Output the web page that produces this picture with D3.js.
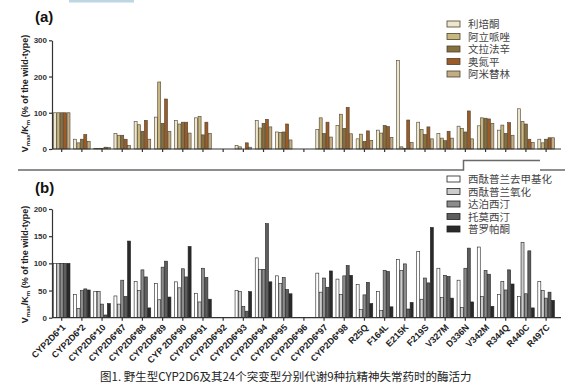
<!DOCTYPE html>
<html><head><meta charset="utf-8">
<script src="https://cdn.jsdelivr.net/npm/d3@7/dist/d3.min.js"></script>
<style>
body{margin:0;background:#fff}
svg{display:block}
text{font-family:"Liberation Sans",Arial,sans-serif}
</style>
</head><body>
<svg id="c" width="579" height="392"></svg>
<script>
// ---------- data ----------
const categories = ["CYP2D6*1","CYP2D6*2","CYP2D6*10","CYP2D6*87","CYP2D6*88","CYP2D6*89","CYP2D6*90","CYP2D6*91","CYP2D6*92","CYP2D6*93","CYP2D6*94","CYP2D6*95","CYP2D6*96","CYP2D6*97","CYP2D6*98","R25Q","F164L","E215K","F219S","V327M","D336N","V342M","R344Q","R440C","R497C"];
const tickLabels = ["CYP2D6*1","CYP2D6*2","CYP2D6*10","CYP2D6*87","CYP2D6*88","CYP2D6*89","CYP 2D6*90","CYP2D6*91","CYP2D6*92","CYP2D6*93","CYP2D6*94","CYP2D6*95","CYP2D6*96","CYP2D6*97","CYP2D6*98","R25Q","F164L","E215K","F219S","V327M","D336N","V342M","R344Q","R440C","R497C"];

const seriesA = ["利培酮","阿立哌唑","文拉法辛","奥氮平","阿米替林"];
const risperidone   = [100,27,2,43,76,88,79,86,0,10,79,47,0,54,65,28,52,244,74,43,63,64,52,111,27];
const aripiprazole  = [100,17,2,38,67,185,69,90,0,6,58,46,0,86,96,41,44,6,54,30,57,86,66,76,17];
const venlafaxine   = [100,27,2,38,49,71,74,39,0,0,71,47,0,43,57,21,65,2,40,23,47,85,43,69,27];
const olanzapine    = [100,40,5,27,79,138,74,74,0,17,82,69,0,74,115,50,62,80,61,49,105,83,73,27,31];
const amitriptyline = [100,21,4,10,27,48,44,43,0,5,61,25,0,33,42,24,32,18,28,30,28,71,38,18,31];

const seriesB = ["西酞普兰去甲基化","西酞普兰氧化","达泊西汀","托莫西汀","普罗帕酮"];
const citalopramDemethyl = [100,43,48,40,67,63,66,45,0,50,110,77,0,82,71,61,48,107,122,91,69,130,43,39,67];
const citalopramOxid     = [100,17,48,25,50,33,55,29,0,48,89,63,0,47,43,15,13,87,34,37,19,39,67,138,50];
const dapoxetine         = [100,50,25,69,88,93,90,91,0,21,89,74,0,73,77,42,87,99,73,78,91,87,51,44,36];
const atomoxetine        = [100,53,5,39,75,104,75,74,0,12,173,52,0,56,96,65,85,16,64,76,128,80,88,123,47];
const propafenone        = [100,51,26,141,18,38,131,34,0,48,66,44,0,86,78,26,20,28,166,36,29,21,62,18,32];

const yTicksA = [0,100,200,300];
const yTicksB = [0,50,100,150,200];
const colorsA = ["#ece6cc","#c8b77f","#86703f","#9c5a26","#c3ad84"];
const colorsB = ["#ffffff","#cccccc","#8c8c8c","#5e5e5e","#2a2a2a"];
const caption = "图1. 野生型CYP2D6及其24个突变型分别代谢9种抗精神失常药时的酶活力";

// ---------- drawing ----------
const svg = d3.select("#c");
svg.append("rect").attr("width",579).attr("height",392).attr("fill","#fff");
// small blue strip at top (crop artefact in the source)
svg.append("rect").attr("x",69).attr("y",0).attr("width",65).attr("height",2.5).attr("fill","#bcd6e3");

const x = d3.scaleBand().domain(categories).range([51.6, 556.2]);
const xs = d3.scaleBand().domain(d3.range(5)).range([1.8, 18.4]).paddingInner(0.12);

function panel(cfg){
  const g = svg.append("g");
  const y = d3.scaleLinear().domain(cfg.domain).range(cfg.range);
  // bars
  cfg.series.forEach((vals, si) => {
    g.append("g").selectAll("rect").data(vals.map((v,i)=>({c:categories[i], v})))
      .join("rect")
      .filter(d => d.v > 0)
      .attr("x", d => x(d.c) + xs(si))
      .attr("width", xs.bandwidth())
      .attr("y", d => y(d.v))
      .attr("height", d => y(0) - y(d.v))
      .attr("fill", cfg.colors[si])
      .attr("stroke", cfg.stroke)
      .attr("stroke-width", 0.6);
  });
  // y axis
  const ya = g.append("g").attr("transform", "translate(52,0)")
    .call(d3.axisLeft(y).tickValues(cfg.yTicks).tickSize(3).tickSizeOuter(0).tickPadding(2));
  ya.select(".domain").attr("stroke","#333").attr("stroke-width",1.2);
  ya.selectAll(".tick line").attr("stroke","#333").attr("stroke-width",1.2);
  ya.selectAll("text").style("font-size","8px").style("font-weight","bold").attr("fill","#333");
  // x axis
  const xa = g.append("g").attr("transform", `translate(0,${y(0)})`)
    .call(d3.axisBottom(x).tickSize(3).tickSizeOuter(0).tickFormat((d,i)=>cfg.labels ? tickLabels[i] : ""));
  xa.select(".domain").remove();
  xa.append("line").attr("x1",52).attr("x2",561).attr("stroke","#333").attr("stroke-width",1.2);
  xa.selectAll(".tick line").attr("stroke","#333").attr("stroke-width",1.2);
  if (cfg.labels){
    xa.selectAll(".tick text")
      .attr("x",0).attr("y",0).attr("dy","0.35em")
      .attr("transform","translate(2,8) rotate(-45)")
      .style("text-anchor","end").style("font-size","9px").style("font-weight","bold").attr("fill","#222");
  } else {
    xa.selectAll(".tick text").remove();
  }
  // y title
  const t = g.append("text").attr("transform", `translate(28,${cfg.titleY}) rotate(-90)`)
    .attr("text-anchor","middle").style("font-size","9px").style("font-weight","bold").attr("fill","#222");
  t.append("tspan").text("V");
  t.append("tspan").text("max").style("font-size","6px").attr("dy",2);
  t.append("tspan").text("/K").attr("dy",-2);
  t.append("tspan").text("m").style("font-size","6px").attr("dy",2);
  t.append("tspan").text(" (% of the wild-type)").attr("dy",-2);
  // panel letter
  g.append("text").attr("x",35).attr("y",cfg.letterY).text(cfg.letter)
    .style("font-size","15px").style("font-weight","bold").attr("fill","#111");
  // legend
  const lg = g.append("g");
  cfg.names.forEach((n,i)=>{
    const ly = cfg.legendY + i*12.5;
    lg.append("rect").attr("x",447).attr("y",ly-3).attr("width",13).attr("height",6)
      .attr("fill",cfg.colors[i]).attr("stroke",cfg.stroke).attr("stroke-width",0.8);
    lg.append("text").attr("x",468).attr("y",ly+4).text(n)
      .style("font-family","'Liberation Sans','Noto Sans CJK SC',sans-serif").style("font-size","10.5px").attr("fill","#444");
  });
}

panel({domain:[0,300], range:[149,40.3], yTicks:yTicksA,
  series:[risperidone,aripiprazole,venlafaxine,olanzapine,amitriptyline],
  colors:colorsA, stroke:"#4d4130", names:seriesA, labels:false,
  titleY:93.5, letter:"(a)", letterY:22, legendY:24});

panel({domain:[0,200], range:[317.7,209], yTicks:yTicksB,
  series:[citalopramDemethyl,citalopramOxid,dapoxetine,atomoxetine,propafenone],
  colors:colorsB, stroke:"#222", names:seriesB, labels:true,
  titleY:264.5, letter:"(b)", letterY:193, legendY:179});

// separator lines
svg.append("path").attr("d","M18,170H463.5V160.5H540").attr("fill","none").attr("stroke","#6a6a6a").attr("stroke-width",1.5);
svg.append("path").attr("d","M540,170H565").attr("fill","none").attr("stroke","#6a6a6a").attr("stroke-width",1.5);

// caption
svg.append("text").attr("x",100).attr("y",381).text(caption)
  .style("font-family","'Noto Sans CJK SC',sans-serif").style("font-size","11.5px").attr("fill","#222");
</script>
</body></html>
